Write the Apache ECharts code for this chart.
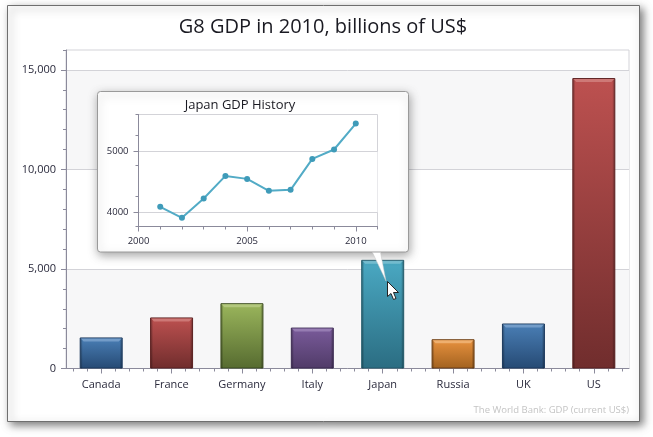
<!DOCTYPE html>
<html><head><meta charset="utf-8">
<style>html,body{margin:0;padding:0;background:#fff}#c{width:653px;height:437px}</style>
<script src="https://cdn.jsdelivr.net/npm/echarts@6/dist/echarts.min.js"></script>
</head><body><div id="c"></div>
<script>
var countries = ['Canada','France','Germany','Italy','Japan','Russia','UK','US'];
var gdp2010 = [1560,2565,3280,2055,5459,1470,2260,14590];
var gdpTicks = [0,5000,10000,15000];
var historyYears = [2001,2002,2003,2004,2005,2006,2007,2008,2009,2010];
var japanGdp = [4092,3912,4229,4600,4551,4355,4371,4879,5033,5459];
var historyYearTicks = [2000,2005,2010];
var historyGdpTicks = [4000,5000];
var titleText = 'G8 GDP in 2010, billions of US$';
var insetTitle = 'Japan GDP History';
var sourceText = 'The World Bank: GDP (current US$)';

var barTop = ['#4a7fb6','#bd5150','#9bb65c','#7a5b9b','#4aa9c3','#e9923f','#4a7fb6','#bd5150'];
var barBottom = ['#264a74','#702d2d','#566b30','#503b68','#2b6d82','#a2621f','#264a74','#702d2d'];
var barEdge = ['#1d3a5e','#5b2020','#3d4d21','#3d2b53','#235a6b','#6c3e14','#1d3a5e','#5b2020'];
var barShine = ['#86abd3','#d58a88','#bdd08c','#a48cbd','#8accdc','#f3bd85','#86abd3','#d58a88'];

var FONT = '"Open Sans", "Noto Sans", sans-serif';
var AXIS = '#8b8a9b', GRID = '#d3d3d8', TXT = '#2a2a3c';
var hw = 21.5;

var chart = echarts.init(document.getElementById('c'), null, {renderer:'canvas'});

var barData = gdp2010.map(function(v,i){
  return {value:v, itemStyle:{
    borderColor:barEdge[i], borderWidth:1,
    color:{type:'linear',x:0,y:0,x2:0,y2:1,colorStops:[{offset:0,color:barTop[i]},{offset:1,color:barBottom[i]}]}
  }};
});

function bevel(params, api){
  var i = api.value(0), v = api.value(1);
  var t = api.coord([i,v]), b = api.coord([i,0]);
  var x0=t[0]-hw, x1=t[0]+hw, y0=t[1], y1=b[1];
  return {type:'group',children:[
    {type:'rect',shape:{x:x0+1,y:y0+1,width:x1-x0-2,height:y1-y0-1},style:{fill:{type:'linear',x:0,y:0,x2:1,y2:0,colorStops:[
      {offset:0,color:'rgba(0,0,0,0.3)'},{offset:0.05,color:'rgba(0,0,0,0)'},{offset:0.95,color:'rgba(0,0,0,0)'},{offset:1,color:'rgba(0,0,0,0.3)'}]}}},
    {type:'polygon',shape:{points:[[x0+1,y0+1],[x1-1,y0+1],[x1-4,y0+4],[x0+4,y0+4]]},style:{fill:barShine[i],opacity:0.7}}
  ]};
}

var option = {
  animation:false,
  backgroundColor:'#fff',
  textStyle:{fontFamily:FONT},
  title:[
    {text:titleText,left:323,top:17,padding:0,textAlign:'center',textStyle:{fontFamily:FONT,fontSize:20,fontWeight:'normal',color:'#1a1a22'},z:5},
    {text:insetTitle,left:240,top:99,padding:0,textAlign:'center',textStyle:{fontFamily:FONT,fontSize:13,fontWeight:'normal',color:'#1a1a22'},z:12}
  ],
  grid:[
    {left:66,top:50,width:563,height:318.5,show:true,borderColor:GRID,borderWidth:1,backgroundColor:'transparent',z:0},
    {left:138.5,top:114.5,width:239,height:112,show:true,borderColor:GRID,borderWidth:1,backgroundColor:'transparent',z:11}
  ],
  xAxis:[
    {type:'category',gridIndex:0,data:countries,position:'bottom',
      axisLine:{show:true,lineStyle:{color:AXIS}},
      axisTick:{show:true,alignWithLabel:true,length:5,lineStyle:{color:AXIS}},
      axisLabel:{fontFamily:FONT,fontSize:11,color:TXT,margin:11},splitLine:{show:false}},
    {type:'category',gridIndex:0,position:'bottom',data:new Array(40).fill(''),
      axisLine:{show:false},axisTick:{show:true,alignWithLabel:true,length:3,interval:0,lineStyle:{color:AXIS}},
      axisLabel:{show:false},splitLine:{show:false}},
    {type:'value',gridIndex:1,min:2000,max:2011,interval:5,position:'bottom',z:11,
      axisLine:{show:true,onZero:false,lineStyle:{color:AXIS}},
      axisTick:{show:true,length:5,customValues:historyYearTicks,lineStyle:{color:AXIS}},
      axisLabel:{customValues:historyYearTicks,fontFamily:FONT,fontSize:9.5,color:TXT,margin:10,formatter:function(v){return String(v);}},
      splitLine:{show:false}},
    {type:'value',gridIndex:1,min:2000,max:2011,interval:1,position:'bottom',z:11,
      axisLine:{show:false,onZero:false},axisTick:{show:true,length:3,lineStyle:{color:AXIS}},
      axisLabel:{show:false},splitLine:{show:false}}
  ],
  yAxis:[
    {type:'value',gridIndex:0,min:0,max:16000,interval:5000,position:'left',
      axisLine:{show:true,lineStyle:{color:AXIS}},
      axisTick:{show:true,length:5,customValues:gdpTicks,lineStyle:{color:AXIS}},
      axisLabel:{customValues:gdpTicks,fontFamily:FONT,fontSize:11,color:TXT,margin:10,formatter:function(v){return v.toLocaleString('en-US');}},
      splitLine:{show:true,lineStyle:{color:GRID}},
      splitArea:{show:true,areaStyle:{color:['#f7f7f8','#ffffff']}}},
    {type:'value',gridIndex:0,min:0,max:16000,interval:1000,position:'left',
      axisLine:{show:false},axisTick:{show:true,length:3,lineStyle:{color:AXIS}},
      axisLabel:{show:false},splitLine:{show:false}},
    {type:'value',gridIndex:1,min:3770,max:5607,interval:1000,position:'left',z:11,
      axisLine:{show:true,onZero:false,lineStyle:{color:AXIS}},
      axisTick:{show:true,length:5,customValues:historyGdpTicks,lineStyle:{color:AXIS}},
      axisLabel:{customValues:historyGdpTicks,fontFamily:FONT,fontSize:9.5,color:TXT,margin:10,formatter:function(v){return String(v);}},
      splitLine:{show:true,lineStyle:{color:GRID}},
      splitArea:{show:true,areaStyle:{color:['#ffffff','#f7f7f8']}}},
    {type:'value',gridIndex:1,min:3770,max:5607,interval:500,position:'left',z:11,
      axisLine:{show:false,onZero:false},axisTick:{show:true,length:3,lineStyle:{color:AXIS}},
      axisLabel:{show:false},splitLine:{show:false}}
  ],
  series:[
    {type:'bar',name:'GDP 2010',xAxisIndex:0,yAxisIndex:0,barWidth:43,data:barData,z:2},
    {type:'custom',name:'bevel',xAxisIndex:0,yAxisIndex:0,renderItem:bevel,z:3,silent:true,
      encode:{x:0,y:1},data:gdp2010.map(function(v,i){return [i,v];})},
    {type:'line',name:'Japan GDP',xAxisIndex:2,yAxisIndex:2,z:12,
      data:historyYears.map(function(y,i){return [y,japanGdp[i]];}),
      lineStyle:{color:'#52abc6',width:2},symbol:'circle',symbolSize:6,
      itemStyle:{color:'#3f9bb9'},showSymbol:true}
  ],
  graphic:{elements:[
    {type:'rect',z:-1,silent:true,shape:{x:7.5,y:5.5,width:632,height:416},
      style:{fill:'#fff',stroke:'#6f6f6f',lineWidth:1,shadowBlur:8,shadowOffsetX:3,shadowOffsetY:3,shadowColor:'rgba(0,0,0,0.5)'}},
    {type:'rect',z:10,silent:true,shape:{x:97.5,y:91.5,width:311,height:160.5,r:3},
      style:{fill:'#fff',stroke:'#9a9a9a',lineWidth:1,shadowBlur:10,shadowOffsetX:1,shadowOffsetY:3,shadowColor:'rgba(0,0,0,0.35)'}},
    {type:'polygon',z:10,silent:true,shape:{points:[[372.5,252.5],[380.5,252.5],[386,281]]},
      style:{fill:'#fff',stroke:'#c4c4c4',lineWidth:0.5}},
    {type:'polygon',z:20,silent:true,shape:{points:[[387.5,281.5],[387.5,296.5],[391,293.5],[393.5,299.5],[396,298.5],[393.5,292.5],[398.5,292.5]]},
      style:{fill:'#fff',stroke:'#222',lineWidth:1}},
    {type:'text',z:5,silent:true,style:{text:sourceText,x:629,y:405,align:'right',fill:'#c4c4c4',font:'9.5px '+FONT}}
  ]}
};
chart.setOption(option);
</script></body></html>
